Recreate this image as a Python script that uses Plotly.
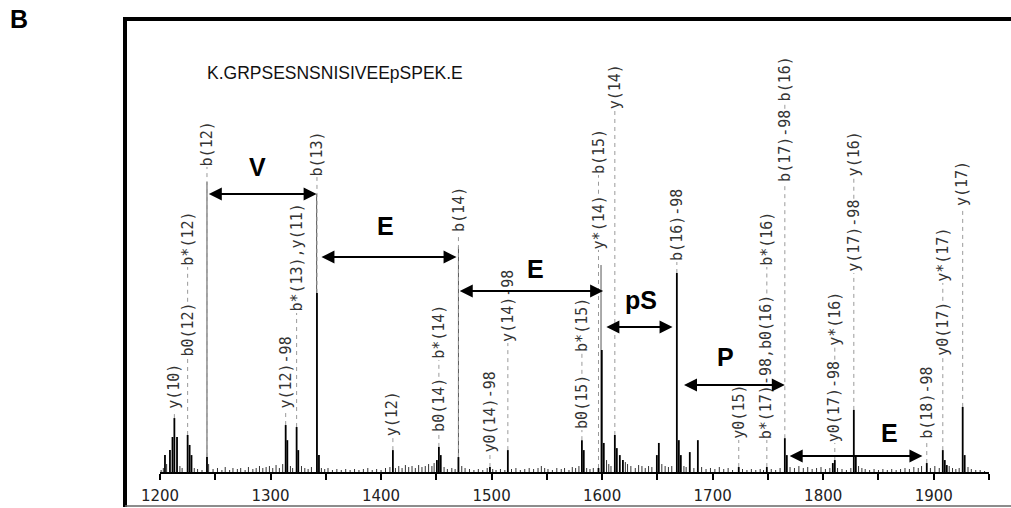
import plotly.graph_objects as go

# ---------------- data ----------------
PANEL = "B"
PEPTIDE = "K.GRPSESNSNISIVEEpSPEK.E"

TICK_VALUES = [1200, 1300, 1400, 1500, 1600, 1700, 1800, 1900]
TICK_LABELS = ["1200", "1300", "1400", "1500", "1600", "1700", "1800", "1900"]
X_RANGE = [1200, 1950]

# labelled peaks (m/z, relative intensity %, label pieces from bottom to top)
LABEL_MZ = [1213.0, 1225.0, 1242.5, 1313.7, 1323.6, 1342.0, 1410.7, 1452.3,
            1470.0, 1498.5, 1514.7, 1581.7, 1596.7, 1611.5, 1667.6, 1723.6,
            1749.0, 1765.3, 1810.5, 1827.7, 1893.7, 1908.2, 1926.2]
LABEL_INT = [27.1, 18.6, 7.5, 23.6, 22.6, 90.0, 11.0, 12.6,
             7.5, 2.5, 11.0, 16.0, 2.0, 18.6, 100.0, 2.5,
             2.5, 17.0, 6.0, 31.2, 4.5, 11.0, 32.7]
LABEL_TEXTS = [["y(10)"], ["b0(12)", "b*(12)"], ["b(12)"], ["y(12)-98"],
               ["b*(13),y(11)"], ["b(13)"], ["y(12)"], ["b0(14)", "b*(14)"],
               ["b(14)"], ["y0(14)-98"], ["y(14)-98"], ["b0(15)", "b*(15)"],
               ["y*(14)", "b(15)"], ["y(14)"], ["b(16)-98"], ["y0(15)"],
               ["b*(17)-98,b0(16)", "b*(16)"], ["b(17)-98", "b(16)"],
               ["y0(17)-98", "y*(16)"], ["y(17)-98", "y(16)"], ["b(18)-98"],
               ["y0(17)", "y*(17)"], ["y(17)"]]

# other peaks (m/z, relative intensity %)
PEAK_MZ = [1204.5, 1209.0, 1211.3, 1215.4, 1226.8, 1228.5, 1315.2, 1325.1,
           1343.8, 1450.5, 1454.0, 1583.4, 1599.7, 1601.5, 1613.3, 1616.0,
           1618.8, 1649.5, 1651.3, 1669.4, 1671.2, 1679.3, 1686.6, 1767.1,
           1808.7, 1829.5, 1910.0, 1911.8, 1928.0]
PEAK_INT = [8.5, 11.0, 17.6, 17.6, 13.6, 8.5, 16.0, 11.0,
            8.5, 6.0, 8.5, 11.0, 61.3, 14.6, 12.0, 8.5,
            6.0, 8.5, 14.6, 16.0, 8.5, 10.0, 16.0, 8.5,
            4.5, 8.5, 6.0, 3.5, 8.5]

# baseline noise (m/z, relative intensity %)
NOISE_MZ = [1201, 1203, 1206, 1218, 1220, 1231, 1234, 1238, 1244, 1248, 1252,
            1256, 1259, 1263, 1266, 1270, 1273, 1277, 1280, 1284, 1287, 1290,
            1293, 1296, 1299, 1302, 1305, 1308, 1311, 1318, 1320, 1328, 1331,
            1334, 1337, 1346, 1349, 1352, 1356, 1360, 1364, 1368, 1372, 1376,
            1380, 1384, 1388, 1392, 1396, 1400, 1404, 1408, 1413, 1416, 1419,
            1422, 1425, 1428, 1431, 1434, 1437, 1440, 1443, 1446, 1448, 1457,
            1460, 1464, 1467, 1473, 1476, 1480, 1484, 1488, 1492, 1496, 1501,
            1504, 1508, 1512, 1518, 1522, 1526, 1530, 1534, 1538, 1542, 1545,
            1548, 1551, 1555, 1559, 1563, 1566, 1570, 1573, 1576, 1579, 1586,
            1589, 1592, 1604, 1606, 1608, 1621, 1623, 1626, 1630, 1633, 1636,
            1639, 1642, 1645, 1654, 1657, 1660, 1663, 1674, 1676, 1683, 1690,
            1694, 1698, 1702, 1706, 1710, 1714, 1718, 1727, 1731, 1735, 1739,
            1743, 1746, 1753, 1757, 1761, 1770, 1774, 1778, 1782, 1786, 1790,
            1794, 1798, 1802, 1806, 1813, 1817, 1821, 1825, 1832, 1835, 1838,
            1842, 1846, 1850, 1854, 1858, 1862, 1866, 1870, 1874, 1878, 1882,
            1886, 1889, 1897, 1901, 1905, 1914, 1917, 1920, 1923, 1931, 1934,
            1938, 1942, 1946]
NOISE_INT = [1.0, 2.0, 4.0, 3.0, 2.0, 2.0, 1.5, 1.0, 4.0, 1.5, 2.0,
             1.0, 2.5, 1.0, 2.0, 1.5, 2.0, 1.0, 2.5, 1.5, 2.0, 3.0,
             2.0, 2.5, 3.0, 2.0, 3.5, 2.0, 4.0, 3.0, 2.0, 3.0, 2.0,
             1.5, 2.5, 2.0, 1.5, 2.0, 1.0, 1.5, 1.0, 1.5, 1.0, 1.5,
             1.0, 1.5, 2.0, 1.0, 1.5, 1.0, 2.0, 2.5, 2.0, 3.0, 2.0,
             3.5, 2.5, 3.0, 2.0, 3.5, 2.5, 3.0, 4.0, 3.0, 4.5, 2.5,
             1.5, 2.0, 1.5, 3.0, 2.0, 1.5, 1.0, 1.5, 1.0, 2.0, 1.5,
             1.0, 1.5, 1.0, 1.5, 2.0, 1.0, 1.5, 2.0, 1.5, 2.0, 3.0,
             2.0, 1.5, 1.0, 2.0, 1.5, 2.0, 1.0, 2.5, 2.0, 3.0, 2.0,
             1.5, 2.0, 6.0, 4.0, 3.0, 5.0, 4.0, 3.0, 2.0, 3.5, 3.0,
             2.0, 3.0, 2.5, 4.0, 3.0, 2.5, 3.0, 3.0, 2.5, 2.0, 2.5,
             1.5, 2.0, 1.5, 2.5, 1.5, 2.0, 1.0, 1.5, 1.0, 1.5, 1.0,
             1.5, 1.0, 1.5, 1.0, 2.0, 2.5, 2.0, 3.0, 2.0, 2.5, 1.5,
             2.0, 2.5, 1.5, 2.0, 2.0, 1.5, 1.0, 2.0, 3.0, 2.0, 1.5,
             1.0, 1.5, 1.0, 1.5, 1.0, 1.5, 1.0, 1.5, 2.0, 1.5, 2.5,
             2.0, 3.0, 2.0, 3.0, 2.0, 3.0, 2.0, 1.5, 2.0, 2.5, 1.5,
             1.0, 1.0, 0.5]

# residue mass-difference arrows
RESIDUES = ["V", "E", "E", "pS", "P", "E"]
RES_START = [1242.8, 1344.7, 1469.8, 1602.5, 1672.7, 1768.3]
RES_END = [1341.7, 1468.3, 1600.9, 1663.7, 1765.3, 1889.8]

# ---------------- layout settings ----------------
W, H = 1011, 508
M_L, M_R, M_T, M_B = 160, 22, 18, 36
PLOT_H = H - M_T - M_B
PX_PER_UNIT = 1.99            # pixels per 1 % intensity
Y_MAX = PLOT_H / PX_PER_UNIT

# label piece bottoms (in % intensity units)
LABEL_BOTTOMS = [[31.2], [57.3, 103.0], [153.3], [31.2], [79.9], [148.2],
                 [17.6], [19.6, 56.3], [120.1], [9.5], [64.8], [21.1, 59.8],
                 [111.6, 149.2], [181.9], [105.5], [16.1], [16.1, 103.0],
                 [145.2, 185.9], [14.6, 62.8], [100.0, 148.2], [16.1],
                 [57.8, 95.0], [133.2]]
RES_LEVEL = [139.7, 108.0, 91.0, 72.9, 43.7, 8.0]
RES_TEXT_X = [1288.2, 1403.9, 1539.6, 1635.0, 1711.4, 1859.8]
RES_TEXT_Y = [153.5, 123.6, 102.0, 86.4, 57.8, 19.8]
GUIDE_MZ = [1242.5, 1341.7, 1470.0, 1599.0]
GUIDE_TOP = [145.7, 139.7, 113.1, 104.0]

LABEL_FONT = dict(family="DejaVu Sans Mono", size=15, color="#333333")
CHAR_PX = 0.602 * LABEL_FONT["size"]

fig = go.Figure()

# baseline noise
nx, ny = [], []
for m, v in zip(NOISE_MZ, NOISE_INT):
    nx += [m, m, None]
    ny += [0, v, None]
fig.add_trace(go.Scatter(x=nx, y=ny, mode="lines", line=dict(color="#333", width=1),
                         hoverinfo="skip", showlegend=False))

# guide lines for arrows
gx, gy = [], []
for m, t in zip(GUIDE_MZ, GUIDE_TOP):
    gx += [m, m, None]
    gy += [0, t, None]
fig.add_trace(go.Scatter(x=gx, y=gy, mode="lines", line=dict(color="#555", width=1),
                         hoverinfo="skip", showlegend=False))

# dashed label connectors
dx, dy = [], []
for m, inten, texts, bottoms in zip(LABEL_MZ, LABEL_INT, LABEL_TEXTS, LABEL_BOTTOMS):
    start = inten
    for t, b in zip(texts, bottoms):
        if b > start:
            dx += [m, m, None]
            dy += [start, b, None]
        start = b + (len(t) * CHAR_PX + 2) / PX_PER_UNIT
fig.add_trace(go.Scatter(x=dx, y=dy, mode="lines",
                         line=dict(color="#9a9a9a", width=1, dash="4px,4px"),
                         hoverinfo="skip", showlegend=False))

# peaks
px_, py_ = [], []
for m, v in list(zip(PEAK_MZ, PEAK_INT)) + list(zip(LABEL_MZ, LABEL_INT)):
    px_ += [m, m, None]
    py_ += [0, v, None]
fig.add_trace(go.Scatter(x=px_, y=py_, mode="lines", line=dict(color="#000", width=1.8),
                         hoverinfo="skip", showlegend=False))

annotations = []
for m, texts, bottoms in zip(LABEL_MZ, LABEL_TEXTS, LABEL_BOTTOMS):
    for t, b in zip(texts, bottoms):
        annotations.append(dict(x=m, y=b, xref="x", yref="y", text=t, showarrow=False,
                                textangle=-90, xanchor="center", yanchor="bottom",
                                font=LABEL_FONT, borderpad=0))

for r, s, e, lv, tx, ty in zip(RESIDUES, RES_START, RES_END, RES_LEVEL, RES_TEXT_X, RES_TEXT_Y):
    annotations.append(dict(x=e, y=lv, ax=s, ay=lv, xref="x", yref="y", axref="x", ayref="y",
                            text="", showarrow=True, arrowhead=2, startarrowhead=2,
                            arrowside="end+start", arrowsize=1.3, arrowwidth=2,
                            arrowcolor="#000", standoff=0, startstandoff=0))
    annotations.append(dict(x=tx, y=ty, xref="x", yref="y", text="<b>%s</b>" % r,
                            showarrow=False, xanchor="center", yanchor="middle",
                            font=dict(family="Liberation Sans", size=25, color="#000")))

# peptide sequence and panel letter
annotations.append(dict(x=1240.7, y=200.3, xref="x", yref="y", text=PEPTIDE, showarrow=False,
                        xanchor="left", yanchor="middle",
                        font=dict(family="Liberation Sans", size=17.5, color="#111")))
annotations.append(dict(x=(8 - M_L) / (W - M_L - M_R), y=(H - M_B - 19) / PLOT_H,
                        xref="paper", yref="paper", text="<b>%s</b>" % PANEL, showarrow=False,
                        xanchor="left", yanchor="middle",
                        font=dict(family="Liberation Sans", size=25, color="#000")))

PW = W - M_L - M_R
def pxx(p):
    return (p - M_L) / PW
def pxy(p):
    return (H - M_B - p) / PLOT_H

shapes = [
    dict(type="line", xref="paper", yref="paper", x0=pxx(125), x1=pxx(125),
         y0=pxy(507), y1=pxy(17), line=dict(color="#000", width=4)),
    dict(type="line", xref="paper", yref="paper", x0=pxx(123), x1=pxx(1015),
         y0=pxy(19), y1=pxy(19), line=dict(color="#000", width=4)),
    dict(type="line", xref="paper", yref="paper", x0=pxx(125), x1=pxx(1015),
         y0=pxy(506), y1=pxy(506), line=dict(color="#666", width=1.5)),
]

fig.update_layout(
    width=W, height=H,
    margin=dict(l=M_L, r=M_R, t=M_T, b=M_B, pad=0, autoexpand=False),
    paper_bgcolor="white", plot_bgcolor="white",
    showlegend=False,
    annotations=annotations,
    shapes=shapes,
    xaxis=dict(range=X_RANGE, tickvals=TICK_VALUES, ticktext=TICK_LABELS,
               automargin=False,
               showline=True, linecolor="#000", linewidth=1.5,
               ticks="outside", ticklen=6, tickwidth=1.5, tickcolor="#000",
               ticklabelstandoff=3,
               minor=dict(tick0=1200, dtick=50, ticks="outside", ticklen=6,
                          tickwidth=1.5, tickcolor="#000"),
               showgrid=False, zeroline=False,
               tickfont=dict(family="DejaVu Sans", size=15, color="#222")),
    yaxis=dict(range=[0, Y_MAX], visible=False, showgrid=False, zeroline=False,
               automargin=False),
)

fig.write_html("out.html", config={"displayModeBar": False},
               post_script="document.body.style.margin='0px';")
